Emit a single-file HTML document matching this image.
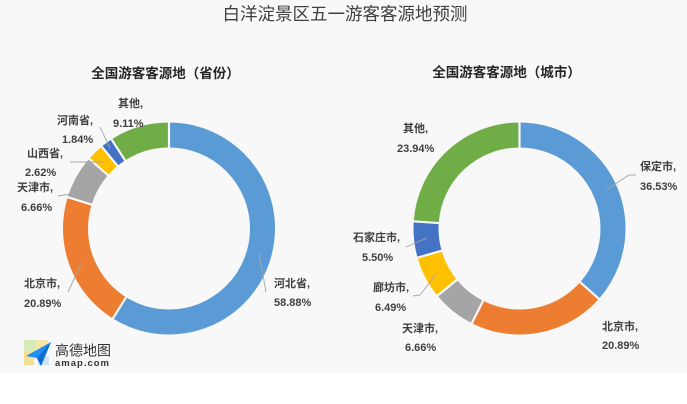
<!DOCTYPE html>
<html><head><meta charset="utf-8">
<style>
html,body{margin:0;padding:0;background:#fff;}
body{width:687px;height:404px;overflow:hidden;}
svg{display:block;}
text{font-family:"Liberation Sans","Noto Sans CJK SC","WenQuanYi Zen Hei",sans-serif;}
.lb{font-size:11px;font-weight:bold;fill:#404040;}
.ld{stroke:#a6a6a6;stroke-width:0.9;fill:none;}
.sep{stroke:#f8f8f8;stroke-width:2.2;}
</style></head>
<body>
<svg width="687" height="404" viewBox="0 0 687 404" xmlns="http://www.w3.org/2000/svg">
<rect x="0" y="0" width="687" height="373" fill="#f8f8f8"/>
<rect x="0" y="373" width="687" height="31" fill="#ffffff"/>

<text x="345" y="20" text-anchor="middle" font-size="17.5" fill="#404040">白洋淀景区五一游客客源地预测</text>
<text x="165.5" y="78" text-anchor="middle" font-size="13.5" font-weight="bold" fill="#262626">全国游客客源地（省份）</text>
<text x="506.5" y="77" text-anchor="middle" font-size="13.5" font-weight="bold" fill="#262626">全国游客客源地（城市）</text>

<!-- Left donut -->
<g transform="rotate(-90 169 228.5)" fill="none" stroke-width="25">
<circle cx="169" cy="228.5" r="93.5" stroke="#5B9BD5" stroke-dasharray="345.91 600" stroke-dashoffset="0"/>
<circle cx="169" cy="228.5" r="93.5" stroke="#ED7D31" stroke-dasharray="122.72 600" stroke-dashoffset="-345.91"/>
<circle cx="169" cy="228.5" r="93.5" stroke="#A5A5A5" stroke-dasharray="39.13 600" stroke-dashoffset="-468.63"/>
<circle cx="169" cy="228.5" r="93.5" stroke="#FFC000" stroke-dasharray="15.39 600" stroke-dashoffset="-507.76"/>
<circle cx="169" cy="228.5" r="93.5" stroke="#4472C4" stroke-dasharray="10.81 600" stroke-dashoffset="-523.15"/>
<circle cx="169" cy="228.5" r="93.5" stroke="#70AD47" stroke-dasharray="53.52 600" stroke-dashoffset="-533.96"/>
</g>
<g>
<line class="sep" x1="169" y1="149" x2="169" y2="120" transform="rotate(0 169 228.5)"/>
<line class="sep" x1="169" y1="149" x2="169" y2="120" transform="rotate(211.97 169 228.5)"/>
<line class="sep" x1="169" y1="149" x2="169" y2="120" transform="rotate(287.17 169 228.5)"/>
<line class="sep" x1="169" y1="149" x2="169" y2="120" transform="rotate(311.15 169 228.5)"/>
<line class="sep" x1="169" y1="149" x2="169" y2="120" transform="rotate(320.58 169 228.5)"/>
<line class="sep" x1="169" y1="149" x2="169" y2="120" transform="rotate(327.20 169 228.5)"/>
</g>

<!-- Left leaders -->
<polyline class="ld" points="100,127 110,148"/>
<polyline class="ld" points="70,162 103,162"/>
<polyline class="ld" points="58,196 70,194"/>
<polyline class="ld" points="68,292 82,262"/>
<polyline class="ld" points="266,292 259,253"/>

<!-- Left labels -->
<text class="lb" x="118" y="107">其他,</text>
<text class="lb" x="113" y="127">9.11%</text>
<text class="lb" x="57" y="124">河南省,</text>
<text class="lb" x="62" y="143">1.84%</text>
<text class="lb" x="27" y="157">山西省,</text>
<text class="lb" x="25" y="176">2.62%</text>
<text class="lb" x="17" y="191">天津市,</text>
<text class="lb" x="21" y="211">6.66%</text>
<text class="lb" x="24" y="287">北京市,</text>
<text class="lb" x="24" y="307">20.89%</text>
<text class="lb" x="274" y="287">河北省,</text>
<text class="lb" x="274" y="306">58.88%</text>

<!-- Right donut -->
<g transform="rotate(-90 519.5 228.5)" fill="none" stroke-width="25">
<circle cx="519.5" cy="228.5" r="93.5" stroke="#5B9BD5" stroke-dasharray="214.60 600" stroke-dashoffset="0"/>
<circle cx="519.5" cy="228.5" r="93.5" stroke="#ED7D31" stroke-dasharray="122.72 600" stroke-dashoffset="-214.60"/>
<circle cx="519.5" cy="228.5" r="93.5" stroke="#A5A5A5" stroke-dasharray="39.13 600" stroke-dashoffset="-337.32"/>
<circle cx="519.5" cy="228.5" r="93.5" stroke="#FFC000" stroke-dasharray="38.13 600" stroke-dashoffset="-376.45"/>
<circle cx="519.5" cy="228.5" r="93.5" stroke="#4472C4" stroke-dasharray="32.31 600" stroke-dashoffset="-414.58"/>
<circle cx="519.5" cy="228.5" r="93.5" stroke="#70AD47" stroke-dasharray="140.64 600" stroke-dashoffset="-446.89"/>
</g>
<g>
<line class="sep" x1="519.5" y1="149" x2="519.5" y2="120" transform="rotate(0 519.5 228.5)"/>
<line class="sep" x1="519.5" y1="149" x2="519.5" y2="120" transform="rotate(131.51 519.5 228.5)"/>
<line class="sep" x1="519.5" y1="149" x2="519.5" y2="120" transform="rotate(206.71 519.5 228.5)"/>
<line class="sep" x1="519.5" y1="149" x2="519.5" y2="120" transform="rotate(230.69 519.5 228.5)"/>
<line class="sep" x1="519.5" y1="149" x2="519.5" y2="120" transform="rotate(254.05 519.5 228.5)"/>
<line class="sep" x1="519.5" y1="149" x2="519.5" y2="120" transform="rotate(273.85 519.5 228.5)"/>
</g>

<!-- Right leaders -->
<polyline class="ld" points="636,175 629,175 606,190"/>
<polyline class="ld" points="406,247 427,238"/>
<polyline class="ld" points="413,296 420,295 437,273"/>

<!-- Right labels -->
<text class="lb" x="403" y="132">其他,</text>
<text class="lb" x="397" y="152">23.94%</text>
<text class="lb" x="640" y="170">保定市,</text>
<text class="lb" x="640" y="190">36.53%</text>
<text class="lb" x="353" y="241">石家庄市,</text>
<text class="lb" x="362" y="261">5.50%</text>
<text class="lb" x="373" y="291">廊坊市,</text>
<text class="lb" x="375" y="311">6.49%</text>
<text class="lb" x="402" y="332">天津市,</text>
<text class="lb" x="405" y="351">6.66%</text>
<text class="lb" x="602" y="330">北京市,</text>
<text class="lb" x="602" y="349">20.89%</text>

<!-- amap logo -->
<g>
<rect x="24" y="340" width="12" height="12" fill="#d6ecb8"/>
<rect x="36" y="340" width="12" height="10" fill="#f6e7a6"/>
<rect x="24" y="352" width="10" height="13" fill="#f3df93"/>
<rect x="38" y="356" width="11" height="9" fill="#cfe3f5"/>
<polygon points="26,356 51,342 41,366 37,358" fill="#1f8ff0"/>
<polygon points="37,358 51,342 41,366" fill="#0b6fd1"/>
</g>
<text x="55" y="355.5" font-size="14" fill="#333">高德地图</text>
<text x="55" y="366" font-size="9.5" font-weight="bold" fill="#333" letter-spacing="1">amap.com</text>
</svg>
</body></html>
